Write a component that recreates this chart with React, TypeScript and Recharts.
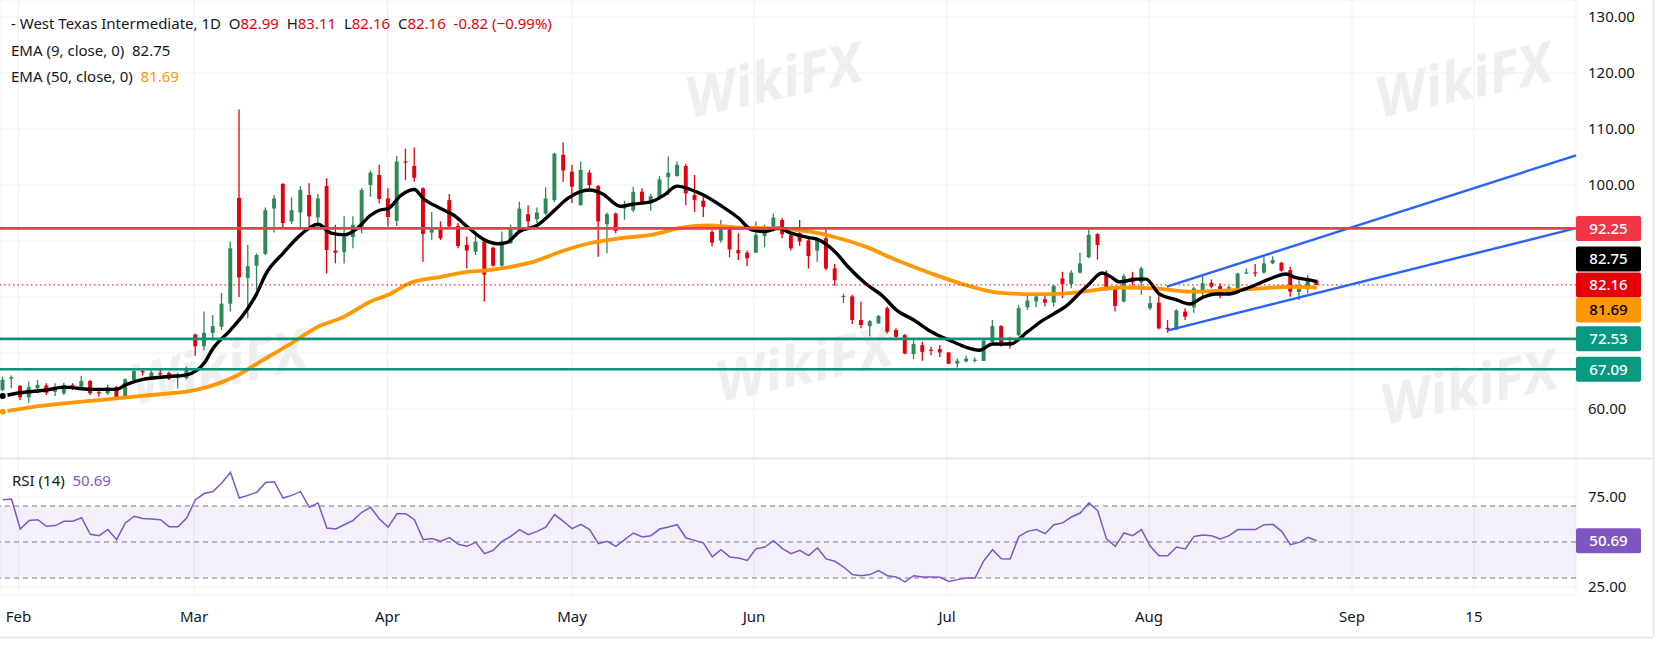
import React from 'react';
import {
  Bar,
  CartesianGrid,
  ComposedChart,
  Line,
  ReferenceArea,
  ReferenceLine,
  XAxis,
  YAxis,
} from 'recharts';

// daily candles, Feb..late Aug (one entry per session)
const opens = [
  63.4, 65.4, 64.1, 62.1, 63.7, 64.2, 63.1, 62.8, 64.3, 64.0, 65.0, 63.0, 62.8, 63.9, 62.2, 65.2, 66.8, 65.7, 66.4, 66.4,
  65.5, 65.5, 73.3, 71.2, 73.6, 74.7, 78.8, 97.7, 83.4, 85.6, 87.7, 95.8, 100.2, 93.5, 95.1, 98.2, 94.2, 99.8, 88.3, 88.0,
  90.7, 92.2, 100.0, 101.8, 97.6, 93.6, 104.2, 103.4, 99.4, 91.5, 92.1, 97.3, 92.7, 89.3, 88.1, 89.9, 88.8, 85.6, 89.6, 91.7,
  94.8, 93.9, 94.9, 97.3, 105.4, 102.4, 96.4, 102.2, 99.8, 93.0, 94.9, 95.8, 95.5, 98.8, 96.8, 97.6, 101.4, 101.6, 103.4, 98.2,
  97.2, 91.6, 90.1, 92.4, 88.4, 87.9, 87.9, 90.9, 91.85, 93.75, 91.1, 91.4, 90.1, 88.3, 90.5, 85.1, 80.0, 80.1, 75.9, 74.8,
  75.3, 78.0, 74.1, 73.2, 69.8, 71.4, 70.6, 70.7, 70.1, 68.1, 68.5, 68.7, 68.6, 72.0, 74.8, 72.0, 73.2, 78.16, 79.2, 79.6,
  79.0, 83.3, 82.3, 84.35, 87.1, 91.25, 83.9, 81.7, 79.2, 83.5, 82.6, 78.0, 79.0, 74.5, 74.2, 77.4, 78.15, 81.25, 82.55, 81.95,
  80.4, 81.55, 84.2, 84.4, 84.35, 86.0, 86.1, 84.8, 80.9, 81.65, 82.99,
];
const highs = [
  65.8, 66.0, 64.3, 64.9, 65.2, 64.6, 64.6, 64.7, 64.6, 65.9, 65.2, 63.3, 64.3, 64.1, 65.5, 67.1, 67.3, 66.9, 67.3, 66.7,
  66.5, 67.6, 73.5, 77.4, 76.8, 80.7, 89.9, 113.5, 89.3, 87.8, 96.0, 98.2, 100.3, 97.8, 99.8, 100.3, 98.4, 101.2, 92.9, 94.4,
  94.4, 99.4, 102.6, 103.6, 99.4, 105.2, 106.5, 106.7, 99.6, 95.2, 93.5, 98.4, 93.2, 90.8, 91.7, 90.2, 89.0, 91.7, 92.9, 97.0,
  96.4, 96.0, 99.6, 105.8, 107.6, 103.6, 104.2, 102.7, 100.0, 95.1, 95.1, 97.2, 99.7, 99.4, 98.4, 101.6, 105.1, 104.2, 103.8, 101.8,
  98.5, 92.0, 93.8, 92.6, 91.4, 88.3, 93.5, 92.9, 94.9, 94.05, 91.5, 93.75, 90.5, 90.6, 92.3, 85.9, 80.6, 80.4, 79.2, 75.9,
  76.8, 78.3, 74.4, 73.4, 72.3, 72.0, 71.1, 71.4, 70.2, 69.0, 69.5, 69.2, 72.6, 75.9, 75.0, 72.9, 78.6, 80.65, 80.5, 80.5,
  82.1, 84.5, 84.8, 87.9, 92.3, 91.4, 84.8, 81.85, 84.1, 84.5, 85.4, 80.2, 80.9, 75.9, 77.8, 78.0, 81.85, 83.75, 83.15, 82.45,
  81.95, 84.35, 85.1, 85.9, 87.2, 87.3, 86.3, 85.4, 83.0, 83.9, 83.11,
];
const lows = [
  63.1, 63.7, 61.6, 61.1, 62.8, 62.5, 62.3, 62.5, 63.4, 63.5, 62.5, 62.2, 62.5, 61.9, 62.1, 65.1, 66.0, 65.4, 65.8, 65.2,
  63.7, 65.3, 69.5, 70.5, 72.3, 74.1, 77.4, 80.0, 76.2, 81.3, 87.5, 91.5, 92.3, 93.0, 92.0, 92.6, 92.0, 84.2, 86.0, 86.0,
  88.7, 91.4, 97.9, 96.7, 92.6, 92.7, 100.9, 100.6, 86.3, 90.2, 90.2, 92.3, 88.7, 85.1, 87.5, 79.2, 85.4, 85.4, 89.5, 91.4,
  92.0, 93.2, 94.6, 97.0, 100.6, 96.8, 96.3, 99.4, 87.2, 87.8, 91.4, 93.8, 95.2, 96.7, 95.4, 97.3, 98.2, 101.5, 96.4, 95.2,
  94.3, 89.0, 89.7, 87.1, 86.6, 85.5, 87.9, 88.9, 91.7, 90.5, 88.3, 89.1, 85.1, 86.3, 84.8, 82.0, 78.9, 75.2, 74.4, 73.0,
  75.2, 73.5, 72.6, 69.8, 68.9, 68.6, 69.6, 69.3, 68.0, 67.4, 68.3, 68.3, 68.6, 71.8, 71.1, 70.8, 73.0, 77.7, 78.2, 78.3,
  78.3, 79.8, 81.55, 84.2, 86.9, 86.7, 81.1, 77.4, 79.0, 82.0, 80.4, 77.7, 74.2, 73.6, 74.1, 75.9, 77.2, 80.1, 81.55, 79.8,
  80.2, 81.4, 84.1, 83.6, 84.2, 85.9, 84.5, 80.05, 79.45, 80.65, 82.16,
];
const closes = [
  65.2, 65.7, 62.1, 63.9, 64.3, 62.9, 63.6, 64.3, 64.0, 65.0, 62.8, 62.8, 63.9, 62.1, 65.3, 66.8, 66.6, 66.5, 66.2, 65.4,
  65.8, 67.1, 71.2, 73.6, 74.8, 78.8, 88.7, 83.5, 85.5, 87.5, 95.5, 97.6, 93.2, 95.5, 99.1, 94.4, 97.6, 88.4, 87.9, 90.8,
  92.9, 99.1, 102.2, 97.5, 94.3, 104.2, 104.0, 101.3, 91.3, 92.1, 90.5, 92.6, 89.1, 88.3, 89.9, 84.0, 85.6, 89.9, 92.3, 95.8,
  93.5, 95.1, 97.6, 105.6, 102.6, 99.7, 102.7, 100.0, 93.5, 94.8, 91.8, 96.2, 98.8, 97.0, 98.0, 101.0, 102.2, 103.6, 98.5, 97.3,
  96.1, 89.7, 92.7, 88.5, 87.8, 86.9, 91.1, 91.85, 94.2, 91.2, 88.7, 89.9, 87.3, 90.5, 85.1, 83.0, 80.2, 75.9, 75.0, 75.7,
  76.6, 73.8, 72.9, 69.9, 71.6, 70.2, 70.4, 70.1, 68.1, 68.6, 69.0, 68.8, 72.2, 74.8, 71.85, 71.4, 78.0, 79.35, 80.1, 79.0,
  82.0, 82.3, 84.35, 86.0, 91.1, 89.3, 81.25, 78.4, 83.75, 82.6, 85.1, 78.9, 74.4, 74.4, 77.6, 76.5, 81.55, 82.45, 81.85, 80.65,
  81.75, 84.2, 84.4, 84.3, 86.0, 86.6, 84.7, 80.95, 81.55, 83.15, 82.16,
];

// RSI (14), one value per session
const rsiValues = [
  73.5, 73.9, 57.2, 62.0, 62.4, 58.7, 59.1, 61.5, 61.5, 63.5, 54.3, 53.5, 57.0, 51.3, 60.6, 64.3, 63.0, 62.8, 62.4, 58.5,
  58.5, 63.3, 73.5, 76.9, 78.0, 82.8, 88.7, 74.4, 75.9, 77.6, 83.1, 83.5, 74.4, 75.9, 78.0, 69.3, 71.7, 57.8, 57.2, 59.6,
  62.0, 66.5, 69.3, 62.8, 58.3, 65.7, 65.7, 62.4, 51.3, 51.9, 50.4, 52.4, 48.7, 47.6, 49.8, 43.5, 45.4, 50.4, 53.1, 56.9,
  54.1, 55.9, 58.3, 65.2, 61.5, 57.4, 59.8, 56.9, 49.1, 50.4, 47.6, 51.3, 55.0, 52.8, 53.5, 57.2, 58.3, 59.6, 52.2, 50.9,
  49.4, 41.7, 45.7, 41.7, 41.1, 39.8, 46.3, 47.2, 50.7, 46.3, 43.5, 45.4, 42.4, 46.7, 40.6, 39.3, 36.1, 31.9, 31.3, 31.9,
  34.1, 31.3, 30.6, 27.8, 31.3, 30.6, 30.6, 30.4, 28.1, 29.1, 30.0, 30.0, 39.6, 45.7, 40.7, 40.6, 53.1, 55.9, 56.9, 54.6,
  59.6, 60.6, 63.9, 66.1, 71.7, 67.4, 51.7, 47.6, 55.0, 53.5, 56.9, 47.6, 42.4, 42.4, 47.2, 46.1, 53.1, 53.9, 53.5, 51.7,
  53.5, 56.9, 56.9, 56.9, 59.6, 59.8, 55.9, 48.5, 49.8, 52.6, 50.69,
];

// EMA lines (session index, value)
const ema9Idx = [
  0, 2, 5, 7, 10, 13, 14, 16, 19, 21, 23, 24, 26, 28, 29, 30, 32, 34, 36, 37.5, 39, 40.5, 42, 43, 44, 45.5, 47, 48, 50,
  51.5, 53, 55, 56.5, 57.5, 59, 61, 63, 64.5, 67, 68.5, 70.5, 72, 74, 75.5, 77, 78.5, 80, 82, 84, 85.5, 87, 88.5, 90, 92,
  93, 95, 96.5, 98.5, 100.5, 102, 104, 106, 108.5, 110, 111.5, 113, 115, 117, 118.5, 120, 121.5, 123, 124, 125.5, 126.5,
  127.5, 129.5, 130.5, 132, 134, 135.5, 137, 138.5, 140, 141.5, 143, 144.5, 146.5, 147.5, 149, 150,
];
const ema9Val = [
  62.3, 62.9, 63.4, 63.9, 63.5, 63.5, 64.3, 65.3, 65.8, 66.1, 68.2, 70.8, 74.1, 78.0, 80.6, 84.0, 87.8, 91.1, 93.0, 91.4,
  91.1, 92.3, 94.6, 95.5, 95.8, 98.2, 99.2, 97.6, 95.8, 94.6, 92.6, 90.2, 89.5, 89.7, 91.7, 92.8, 95.5, 97.6, 99.1, 98.4,
  96.2, 96.6, 97.0, 98.2, 99.8, 99.2, 98.2, 96.3, 94.1, 92.0, 91.7, 92.3, 91.4, 90.6, 90.3, 88.1, 85.4, 82.4, 80.1, 77.7,
  75.9, 73.8, 72.0, 71.0, 70.5, 71.6, 71.6, 73.8, 75.6, 77.0, 78.5, 80.8, 82.3, 84.3, 83.6, 82.7, 83.2, 83.2, 80.6, 79.5,
  78.75, 79.95, 80.55, 80.55, 81.25, 82.15, 83.15, 84.1, 83.5, 83.1, 82.75,
];
const ema50Idx = [
  0, 3.5, 7, 11, 15, 19, 21, 23.5, 26.5, 28.5, 30.5, 32.5, 36, 39, 42, 44, 46.5, 50, 53, 55, 58, 61, 63.5, 67, 70.5, 74,
  77.5, 80.5, 84, 87, 90, 92, 94.5, 98.5, 102, 106, 110, 113.5, 117.5, 121, 124, 127.5, 131.5, 135.5, 139, 143, 147, 150,
];
const ema50Val = [
  59.5, 60.4, 61.0, 61.6, 62.2, 62.8, 63.1, 64.0, 65.8, 67.6, 69.5, 71.3, 74.7, 76.5, 79.2, 80.4, 82.5, 83.6, 84.5, 84.7,
  85.4, 86.5, 88.0, 89.6, 90.5, 91.1, 92.4, 92.8, 92.4, 92.3, 92.1, 91.7, 90.9, 89.0, 86.6, 84.2, 82.1, 80.8, 80.5, 80.6,
  81.1, 81.7, 81.55, 80.95, 81.1, 81.5, 81.8, 81.69,
];

const monthTicks = [1.8, 21.84, 43.93, 64.99, 85.76, 107.8, 130.85, 154.03, 167.95];
const monthLabels = ['Feb', 'Mar', 'Apr', 'May', 'Jun', 'Jul', 'Aug', 'Sep', '15'];
const priceTicks = [60, 70, 80, 90, 100, 110, 120, 130];
const coveredTicks = [70, 80, 90];
const rsiTicks = [25, 75];

const resistance = 92.25;
const supports = [72.53, 67.09];
const lastClose = 82.16;
const ema9Last = 82.75;
const ema50Last = 81.69;
const rsiLast = 50.69;
// rising channel drawn on the chart (session index, price)
const channelLower = [{ x: 132.9, y: 74.0 }, { x: 179.6, y: 92.3 }];
const channelUpper = [{ x: 132.9, y: 81.85 }, { x: 179.6, y: 105.3 }];

const X_DOMAIN: [number, number] = [-0.31, 179.6];
const FONT = '"Noto Sans", sans-serif';
const GREEN = '#2d8a57';
const RED = '#e5000b';
const TEXT = '#131722';

const candles = opens.map((o, i) => ({
  i,
  o,
  h: highs[i],
  l: lows[i],
  c: closes[i],
  range: [lows[i], highs[i]],
}));
const rsiData = rsiValues.map((v, i) => ({ i, v }));
const ema9Data = ema9Idx.map((i, k) => ({ i, v: ema9Val[k] }));
const ema50Data = ema50Idx.map((i, k) => ({ i, v: ema50Val[k] }));

const Candle = (props: any) => {
  const { x, y, width, height, payload } = props;
  if (!payload) return null;
  const { o, h, l, c } = payload;
  const top = Math.min(y, y + height);
  const span = Math.abs(height);
  const k = span / (h - l || 1);
  const color = c >= o ? GREEN : RED;
  const bodyTop = top + (h - Math.max(o, c)) * k;
  const bodyH = Math.max(1.2, Math.abs(o - c) * k);
  const cx = x + width / 2;
  return (
    <g>
      <line x1={cx} x2={cx} y1={top} y2={top + span} stroke={color} strokeWidth={1.3} />
      <rect x={x} y={bodyTop} width={width} height={bodyH} fill={color} />
    </g>
  );
};

const tag = (p: any, text: string, bg: string, fg: string, dy = 0) => {
  const vb = p.viewBox || {};
  const x = vb.x + vb.width;
  const y = vb.y + dy;
  return (
    <g>
      <rect x={x} y={y - 12.5} width={65} height={25} rx={2} fill={bg} />
      <text
        x={x + 32.5}
        y={y}
        dy="0.36em"
        textAnchor="middle"
        fill={fg}
        fontSize={15}
        fontWeight={500}
        fontFamily={FONT}
      >
        {text}
      </text>
    </g>
  );
};

const PriceTick = (props: any) => {
  const { x, y, payload } = props;
  if (coveredTicks.includes(payload.value)) return null;
  return (
    <text x={x} y={y} dy="0.36em" fill={TEXT} fontSize={15} fontFamily={FONT}>
      {payload.value.toFixed(2)}
    </text>
  );
};

const watermarks = [
  { x: 690, y: 118 },
  { x: 720, y: 402 },
  { x: 135, y: 405 },
  { x: 1380, y: 118 },
  { x: 1385, y: 425 },
];

const App = () => (
  <div
    style={{
      position: 'absolute',
      left: 0,
      top: 0,
      width: 1658,
      height: 647,
      background: '#fff',
      overflow: 'hidden',
      fontFamily: FONT,
    }}
  >
    <svg width={1658} height={647} style={{ position: 'absolute', left: 0, top: 0 }}>
      {watermarks.map((w, k) => (
        <text
          key={k}
          x={w.x}
          y={w.y}
          transform={`rotate(-12 ${w.x} ${w.y})`}
          fontSize={56}
          fontWeight={700}
          fontStyle="italic"
          fontFamily={FONT}
          fill="#ececec"
          opacity={0.8}
        >
          WikiFX
        </text>
      ))}
      <line x1={0} x2={1653} y1={458.5} y2={458.5} stroke="#e0e3eb" strokeWidth={1.5} />
      <line x1={1653.5} x2={1653.5} y1={0} y2={637} stroke="#e0e3eb" strokeWidth={1.5} />
      <line x1={0} x2={1653} y1={637.5} y2={637.5} stroke="#e0e3eb" strokeWidth={1.5} />
    </svg>

    <div style={{ position: 'absolute', left: 0, top: 0 }}>
      <ComposedChart width={1658} height={458} data={candles} margin={{ top: 0, right: 0, bottom: 0, left: 0 }}>
        <CartesianGrid stroke="#f0f1f4" strokeWidth={1} />
        <XAxis
          dataKey="i"
          type="number"
          domain={X_DOMAIN}
          allowDataOverflow
          ticks={monthTicks}
          hide
        />
        <YAxis
          orientation="right"
          width={82}
          domain={[51.25, 133.04]}
          allowDataOverflow
          ticks={priceTicks}
          axisLine={false}
          tickLine={false}
          tickSize={0}
          tickMargin={12}
          tick={<PriceTick />}
        />
        <Bar dataKey="range" barSize={7} shape={<Candle />} isAnimationActive={false} />
        <Line
          data={ema50Data}
          dataKey="v"
          type="monotone"
          stroke="#ff9800"
          strokeWidth={3.8}
          dot={false}
          isAnimationActive={false}
        />
        <Line
          data={ema9Data}
          dataKey="v"
          type="monotone"
          stroke="#000"
          strokeWidth={3.4}
          dot={false}
          isAnimationActive={false}
        />
        <ReferenceLine y={lastClose} stroke={RED} strokeWidth={1} strokeDasharray="1.5 3" />
        <ReferenceLine segment={channelLower} stroke="#2962ff" strokeWidth={2.4} ifOverflow="visible" />
        <ReferenceLine segment={channelUpper} stroke="#2962ff" strokeWidth={2.4} ifOverflow="visible" />
        <ReferenceLine
          y={resistance}
          stroke="#ea3d4d"
          strokeWidth={2.6}
          label={(p: any) => tag(p, resistance.toFixed(2), '#f23645', '#fff')}
        />
        {supports.map((s) => (
          <ReferenceLine
            key={s}
            y={s}
            stroke="#0f9179"
            strokeWidth={2.6}
            label={(p: any) => tag(p, s.toFixed(2), '#089981', '#fff')}
          />
        ))}
        <ReferenceLine
          y={ema9Last}
          stroke="none"
          label={(p: any) => tag(p, ema9Last.toFixed(2), '#000', '#fff', -22.7)}
        />
        <ReferenceLine
          y={lastClose}
          stroke="none"
          label={(p: any) => tag(p, lastClose.toFixed(2), '#e6000c', '#fff')}
        />
        <ReferenceLine
          y={ema50Last}
          stroke="none"
          label={(p: any) => tag(p, ema50Last.toFixed(2), '#ff9800', '#000', 22.5)}
        />
      </ComposedChart>
    </div>

    <div style={{ position: 'absolute', left: 0, top: 459 }}>
      <ComposedChart width={1658} height={178} data={rsiData} margin={{ top: 0, right: 0, bottom: 0, left: 0 }}>
        <CartesianGrid stroke="#f0f1f4" strokeWidth={1} />
        <XAxis
          dataKey="i"
          type="number"
          domain={X_DOMAIN}
          allowDataOverflow
          ticks={monthTicks}
          interval={0}
          height={42}
          axisLine={false}
          tickLine={false}
          tickSize={0}
          tickMargin={16}
          tick={{ fill: TEXT, fontSize: 15, fontFamily: FONT }}
          tickFormatter={(v: number) => monthLabels[monthTicks.indexOf(v)] ?? ''}
        />
        <YAxis
          orientation="right"
          width={82}
          domain={[20.56, 96.1]}
          allowDataOverflow
          ticks={rsiTicks}
          axisLine={false}
          tickLine={false}
          tickSize={0}
          tickMargin={12}
          tick={{ fill: TEXT, fontSize: 15, fontFamily: FONT, textAnchor: 'start' }}
          tickFormatter={(v: number) => v.toFixed(2)}
        />
        <ReferenceArea y1={30} y2={70} fill="#7e57c2" fillOpacity={0.09} stroke="none" />
        <ReferenceLine y={70} stroke="#787b86" strokeDasharray="5 4" />
        <ReferenceLine y={50} stroke="#787b86" strokeDasharray="5 4" />
        <ReferenceLine y={30} stroke="#787b86" strokeDasharray="5 4" />
        <Line
          dataKey="v"
          type="linear"
          stroke="#7e57c2"
          strokeWidth={1.5}
          dot={false}
          isAnimationActive={false}
        />
        <ReferenceLine
          y={rsiLast}
          stroke="none"
          label={(p: any) => tag(p, rsiLast.toFixed(2), '#7e57c2', '#fff')}
        />
      </ComposedChart>
    </div>

    <div style={{ position: 'absolute', left: 11, top: 10, fontSize: 15, color: TEXT, lineHeight: '26.5px' }}>
      <div>
        - West Texas Intermediate, 1D&nbsp;&nbsp;O<span style={{ color: '#e5000b' }}>82.99</span>&nbsp;&nbsp;H
        <span style={{ color: '#e5000b' }}>83.11</span>&nbsp;&nbsp;L<span style={{ color: '#e5000b' }}>82.16</span>
        &nbsp;&nbsp;C<span style={{ color: '#e5000b' }}>82.16</span>&nbsp;&nbsp;
        <span style={{ color: '#e5000b' }}>-0.82 (−0.99%)</span>
      </div>
      <div>EMA (9, close, 0)&nbsp;&nbsp;82.75</div>
      <div>
        EMA (50, close, 0)&nbsp;&nbsp;<span style={{ color: '#ff9800' }}>81.69</span>
      </div>
    </div>
    <div style={{ position: 'absolute', left: 12, top: 470, fontSize: 15, color: TEXT }}>
      RSI (14)&nbsp;&nbsp;<span style={{ color: '#7e57c2' }}>50.69</span>
    </div>
  </div>
);

export default App;
